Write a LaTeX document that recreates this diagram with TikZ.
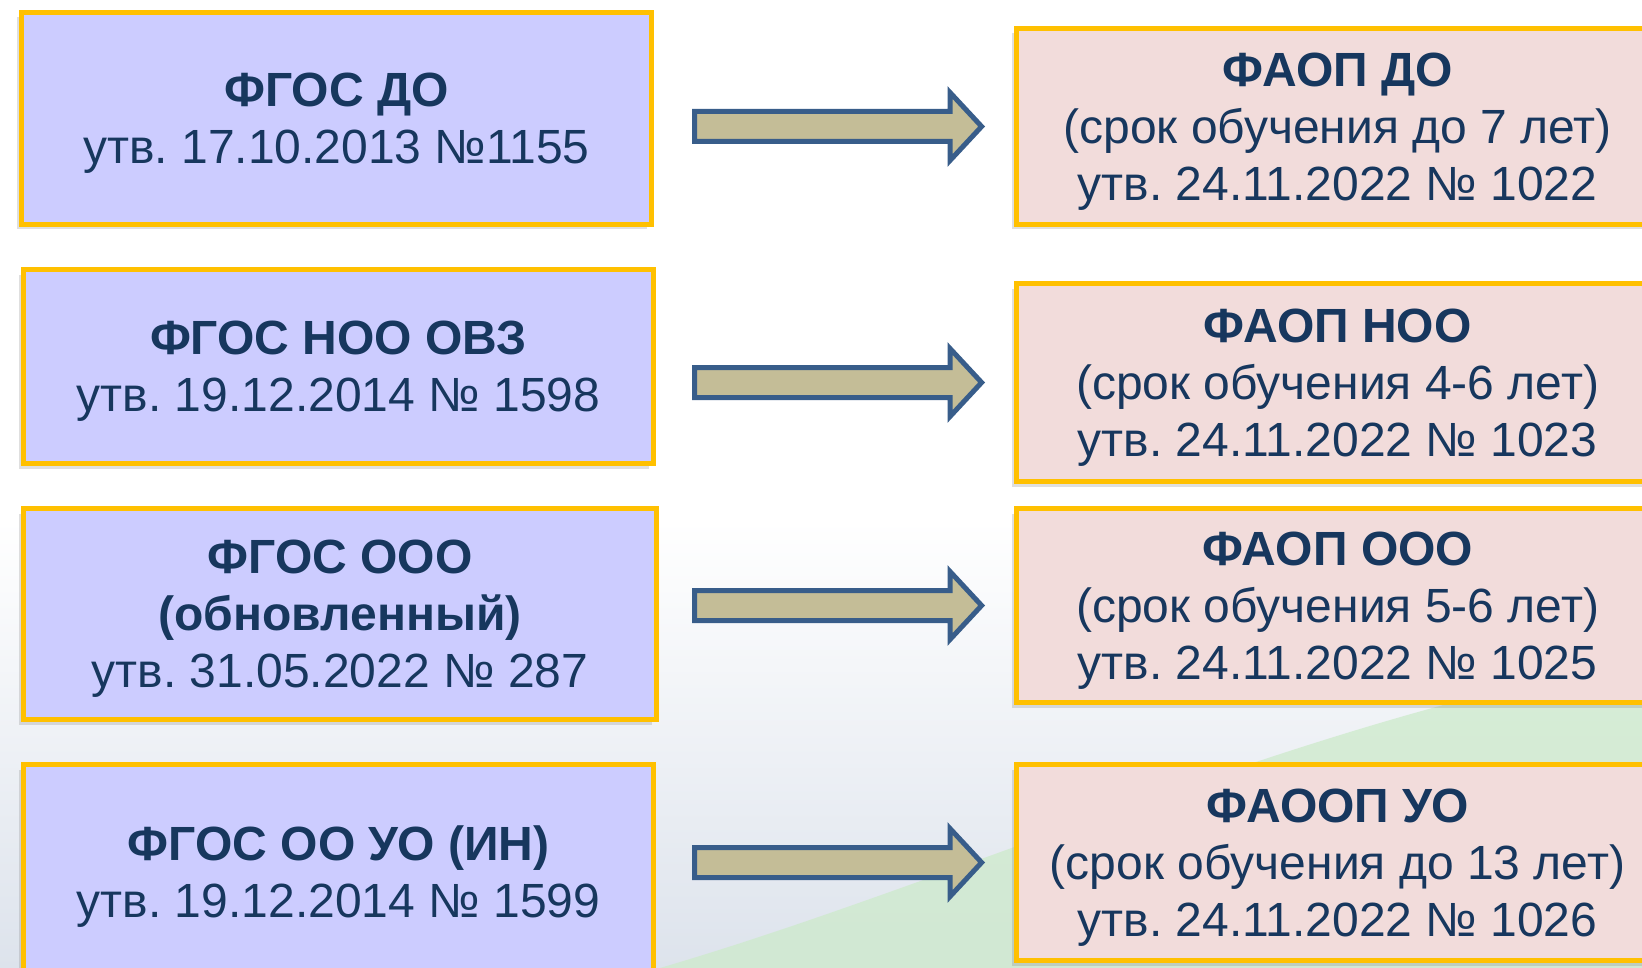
\documentclass[tikz,border=0pt]{standalone}
\usepackage{fontspec}
\setmainfont{Liberation Sans}
\usetikzlibrary{calc,shadows}

\definecolor{navytext}{HTML}{17375E}
\definecolor{goldline}{HTML}{FFC000}
\definecolor{fgosfill}{HTML}{CCCCFF}
\definecolor{faopfill}{HTML}{F2DCDB}
\definecolor{arrowfill}{HTML}{C4BD97}
\definecolor{arrowline}{HTML}{385D8A}
\definecolor{bgblue}{HTML}{DDE3EC}
\definecolor{bggreen}{HTML}{CDEACB}

% pushes the text a little lower in its box
\newcommand{\topstrut}{\rule{0pt}{21.5pt}}

\tikzset{
  docbox/.style={draw=goldline, line width=2.5pt, text=navytext, align=center,
    anchor=north west, inner sep=0pt,
    font=\fontsize{24}{28.5}\selectfont,
    drop shadow={shadow xshift=-2.5pt, shadow yshift=-2.5pt, opacity=0.25}},
  fgosbox/.style={docbox, fill=fgosfill, minimum width=315pt},
  faopbox/.style={docbox, fill=faopfill, minimum width=321pt},
  arrowbox/.style={draw=arrowline, fill=arrowfill, line width=2.5pt}
}

\begin{document}
\frenchspacing
\begin{tikzpicture}[x=1pt,y=1pt]
  \useasboundingbox (0,0) rectangle (821,-484);

  % Background: white top, greyish band and a green swoosh below
  \fill[white] (0,0) rectangle (821,-484);
  \shade[top color=white, bottom color=bgblue] (0,-260) rectangle (821,-484);
  \fill[bggreen, opacity=0.75]
    (330,-484) .. controls (480,-440) and (650,-360) .. (821,-330)
    -- (821,-484) -- cycle;

  % Left column: FGOS
  \node[fgosbox, minimum height=106pt] (f1) at (9.5,-5)
    {\topstrut\textbf{ФГОС ДО}\\утв. 17.10.2013 №1155};
  \node[fgosbox, minimum height=97pt] (f2) at (10.5,-133.5)
    {\topstrut\textbf{ФГОС НОО ОВЗ}\\утв. 19.12.2014 № 1598};
  \node[fgosbox, minimum height=105.5pt, minimum width=316.5pt] (f3) at (10.5,-253)
    {\topstrut\textbf{ФГОС ООО}\\\textbf{(обновленный)}\\утв. 31.05.2022 № 287};
  \node[fgosbox, minimum height=108pt] (f4) at (10.5,-381)
    {\topstrut\textbf{ФГОС ОО УО (ИН)}\\утв. 19.12.2014 № 1599};

  % Right column: FAOP
  \node[faopbox, minimum height=98pt] (r1) at (507,-13)
    {\topstrut\textbf{ФАОП ДО}\\(срок обучения до 7 лет)\\утв. 24.11.2022 № 1022};
  \node[faopbox, minimum height=99pt] (r2) at (507,-140.5)
    {\topstrut\textbf{ФАОП НОО}\\(срок обучения 4-6 лет)\\утв. 24.11.2022 № 1023};
  \node[faopbox, minimum height=97pt] (r3) at (507,-253)
    {\topstrut\textbf{ФАОП ООО}\\(срок обучения 5-6 лет)\\утв. 24.11.2022 № 1025};
  \node[faopbox, minimum height=98pt] (r4) at (507,-381)
    {\topstrut\textbf{ФАООП УО}\\(срок обучения до 13 лет)\\утв. 24.11.2022 № 1026};

  % Block arrows pointing to each FAOP box
  \foreach \i in {1,...,4} {
    \draw[arrowbox]
      ($(r\i.west)+(-159.75,7.5)$) -- ($(r\i.west)+(-32,7.5)$)
      -- ($(r\i.west)+(-32,17)$) -- ($(r\i.west)+(-16.2,0)$)
      -- ($(r\i.west)+(-32,-17)$) -- ($(r\i.west)+(-32,-7.5)$)
      -- ($(r\i.west)+(-159.75,-7.5)$) -- cycle;
  }
\end{tikzpicture}
\end{document}
